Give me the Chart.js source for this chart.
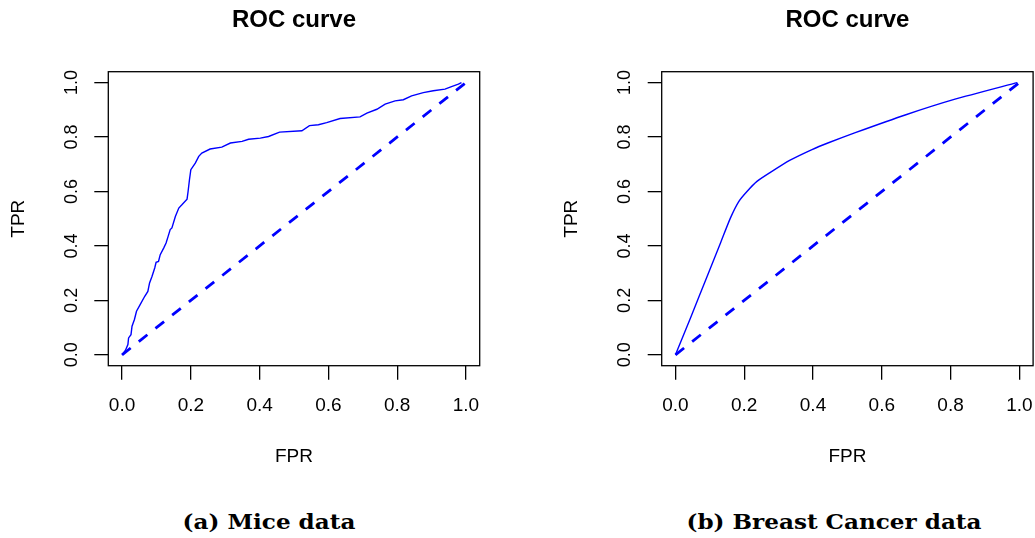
<!DOCTYPE html>
<html lang="en">
<head>
<meta charset="UTF-8">
<title>ROC curves</title>
<script src="https://cdn.jsdelivr.net/npm/chart.js@4.4.0/dist/chart.umd.min.js"></script>
<style>
  body { margin: 0; width: 1035px; height: 538px; overflow: hidden; background: #fff; position: relative; }
  canvas { position: absolute; top: 0; }
  .caption {
    position: absolute; top: 509px; width: 400px; text-align: center;
    font-family: "DejaVu Serif", serif; font-weight: bold; font-size: 21px;
    transform: scaleX(1.1); white-space: nowrap; color: #000;
  }
</style>
</head>
<body>

<canvas id="mice" width="517" height="480" style="left:0"></canvas>
<canvas id="breast" width="560" height="480" style="left:517px"></canvas>
<div class="caption" style="left:69px">(a) Mice data</div>
<div class="caption" style="left:634px">(b) Breast Cancer data</div>

<script>
    // values
    const xTicks = [0, 0.2, 0.4, 0.6, 0.8, 1.0];
    const yTicks = [0, 0.2, 0.4, 0.6, 0.8, 1.0];

    const miceFPR = [0, 0.010, 0.017, 0.019, 0.026, 0.029, 0.036, 0.042, 0.053, 0.066, 0.075, 0.080, 0.087, 0.095,
        0.099, 0.106, 0.111, 0.121, 0.128, 0.134, 0.140, 0.145, 0.155, 0.165, 0.174, 0.189, 0.192, 0.196, 0.200,
        0.213, 0.223, 0.232, 0.256, 0.290, 0.315, 0.349, 0.368, 0.402, 0.426, 0.458, 0.523, 0.545, 0.571, 0.595,
        0.634, 0.692, 0.712, 0.741, 0.765, 0.794, 0.818, 0.842, 0.876, 0.905, 0.939, 0.958, 0.978, 0.987];
    const miceTPR = [0, 0.017, 0.038, 0.062, 0.074, 0.105, 0.130, 0.160, 0.185, 0.215, 0.233, 0.264, 0.288, 0.319,
        0.340, 0.343, 0.368, 0.392, 0.411, 0.435, 0.460, 0.466, 0.508, 0.539, 0.551, 0.572, 0.600, 0.643, 0.680,
        0.704, 0.729, 0.741, 0.756, 0.763, 0.778, 0.784, 0.792, 0.796, 0.802, 0.818, 0.823, 0.842, 0.845, 0.853,
        0.868, 0.874, 0.888, 0.902, 0.921, 0.933, 0.937, 0.951, 0.963, 0.970, 0.976, 0.985, 0.994, 1.0];

    const breastFPR = [0, 0.044, 0.092, 0.131, 0.160, 0.184, 0.208, 0.237, 0.276, 0.332, 0.397, 0.445, 0.523,
        0.668, 0.813, 0.994];
    const breastTPR = [0, 0.136, 0.288, 0.411, 0.503, 0.563, 0.600, 0.637, 0.670, 0.714, 0.754, 0.779, 0.816,
        0.881, 0.939, 1.0];

    const diagFPR = [0, 1];
    const diagTPR = [0, 1];

    const sans = '"Liberation Sans", Arial, sans-serif';
    Chart.defaults.font.family = sans;
    Chart.defaults.color = '#000';

    function toPoints(xs, ys) {
        return xs.map((x, i) => ({x: x, y: ys[i]}));
    }

    // R style box around the plot region
    const boxPlugin = {
        id: 'box',
        afterDatasetsDraw(chart) {
            const a = chart.chartArea, ctx = chart.ctx;
            ctx.save();
            ctx.strokeStyle = '#000';
            ctx.lineWidth = 1.3;
            ctx.strokeRect(a.left, a.top, a.right - a.left, a.bottom - a.top);
            ctx.restore();
        }
    };

    // y tick labels turned 90 degrees like R's default las=0
    const yLabelPlugin = {
        id: 'yLabels',
        afterDraw(chart, args, opts) {
            const ctx = chart.ctx, y = chart.scales.y;
            ctx.save();
            ctx.font = '18px ' + sans;
            ctx.fillStyle = '#000';
            ctx.textAlign = 'center';
            ctx.textBaseline = 'middle';
            yTicks.forEach(v => {
                ctx.save();
                ctx.translate(opts.x, y.getPixelForValue(v));
                ctx.rotate(-Math.PI / 2);
                ctx.fillText(v.toFixed(1), 0, 0);
                ctx.restore();
            });
            ctx.restore();
        }
    };

    function makeChart(id, fpr, tpr, g) {
        const ctx = document.getElementById(id).getContext('2d');
        return new Chart(ctx, {
            type: 'scatter',
            data: {
                datasets: [{
                    data: toPoints(fpr, tpr),
                    showLine: true,
                    borderColor: '#0000ff',
                    borderWidth: 1.4,
                    pointRadius: 0,
                    tension: g.tension
                }, {
                    data: toPoints(diagFPR, diagTPR),
                    showLine: true,
                    borderColor: '#0000ff',
                    borderWidth: 2.8,
                    borderDash: [11, 10.3],
                    pointRadius: 0
                }]
            },
            options: {
                responsive: false,
                animation: false,
                events: [],
                layout: {padding: {left: 0, right: g.padRight, top: 0, bottom: 0}},
                plugins: {
                    legend: {display: false},
                    tooltip: {enabled: false},
                    title: {
                        display: true,
                        fullSize: false,
                        text: 'ROC curve',
                        color: '#000',
                        font: {size: 24, weight: 'bold'},
                        padding: {top: 5.6, bottom: 37.3}
                    },
                    yLabels: {x: g.yLabelX}
                },
                scales: {
                    x: {
                        type: 'linear',
                        min: -0.04,
                        max: 1.04,
                        afterBuildTicks: s => { s.ticks = xTicks.map(v => ({value: v})); },
                        afterFit: s => { s.height = 114.3; },
                        border: {display: false},
                        grid: {drawOnChartArea: false, tickLength: 14, color: '#000', lineWidth: 1.3},
                        ticks: {font: {size: 19}, padding: 15, maxRotation: 0, callback: v => v.toFixed(1)},
                        title: {display: true, text: 'FPR', font: {size: 19}, padding: {top: 0, bottom: 12.3}}
                    },
                    y: {
                        type: 'linear',
                        min: -0.04,
                        max: 1.04,
                        afterBuildTicks: s => { s.ticks = yTicks.map(v => ({value: v})); },
                        afterFit: s => { s.width = g.yWidth; },
                        border: {display: false},
                        grid: {drawOnChartArea: false, tickLength: 14, color: '#000', lineWidth: 1.3},
                        ticks: {display: false},
                        title: {display: true, text: 'TPR', font: {size: 19}, padding: {top: g.tprPad, bottom: 0}}
                    }
                }
            },
            plugins: [boxPlugin, yLabelPlugin]
        });
    }

    makeChart('mice', miceFPR, miceTPR, {yWidth: 108.3, padRight: 37.3, tprPad: 6.9, yLabelX: 71.7, tension: 0});
    makeChart('breast', breastFPR, breastTPR, {yWidth: 144.7, padRight: 43.9, tprPad: 43.3, yLabelX: 108.1, tension: 0.2});
</script>

</body>
</html>
